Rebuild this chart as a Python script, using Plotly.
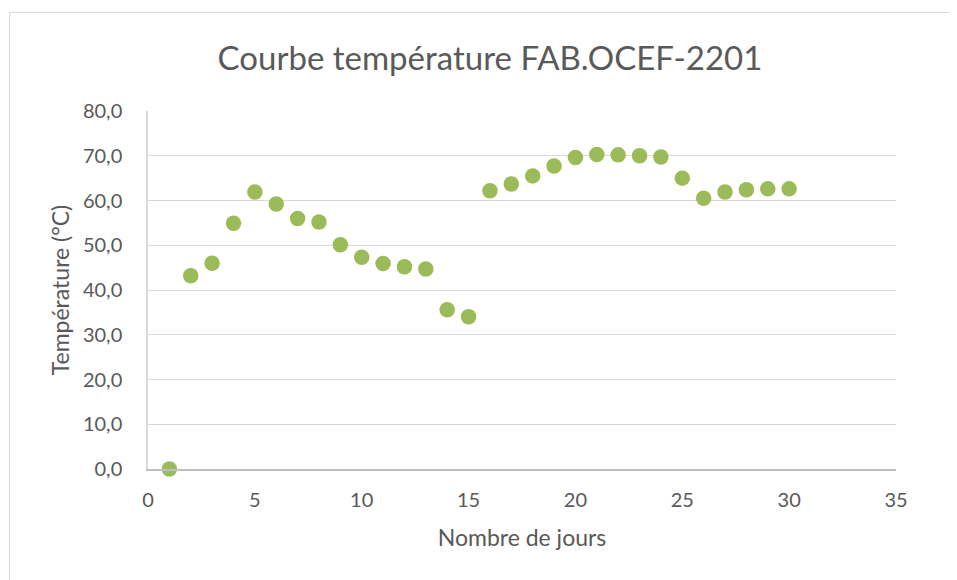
import plotly.graph_objects as go

days = list(range(1, 31))
temperature = [0.0, 43.2, 46.0, 54.9, 61.9, 59.2, 56.0, 55.2, 50.1, 47.3,
               45.9, 45.2, 44.7, 35.6, 34.0, 62.2, 63.7, 65.5, 67.7, 69.6,
               70.3, 70.2, 70.0, 69.7, 65.0, 60.5, 61.9, 62.4, 62.6, 62.6]
x_ticks = [0, 5, 10, 15, 20, 25, 30, 35]
y_ticks = [0, 10, 20, 30, 40, 50, 60, 70, 80]

title_text = "Courbe température FAB.OCEF-2201"
x_title = "Nombre de jours"
y_title = "Température (°C)"

FONT = "Lato"
TXT = "#595959"

# the page body has an 8px margin; figure is sized/offset to compensate
W, H = 949, 572
L, T = 140, 103
PW, PH = 748.5, 358

fig = go.Figure()
fig.add_trace(go.Scatter(
    x=days, y=temperature, mode="markers",
    marker=dict(size=15.5, color="#9BBB59", line=dict(width=0)),
    showlegend=False, cliponaxis=False,
))

fig.update_layout(
    width=W, height=H,
    margin=dict(l=L, r=W - L - PW, t=T, b=H - T - PH, autoexpand=False),
    paper_bgcolor="white", plot_bgcolor="white",
    separators=",.",
    font=dict(family=FONT, color=TXT, size=20),
    title=dict(text=title_text, x=(482 / W), xanchor="center",
               y=1 - 50 / H, yanchor="middle",
               font=dict(family=FONT, size=33, color=TXT)),
    shapes=[dict(type="rect", xref="paper", yref="paper",
                 x0=(1.5 - L) / PW, x1=(W + 20 - L) / PW,
                 y0=(T + PH - (H + 20)) / PH, y1=(T + PH - 4.5) / PH,
                 line=dict(color="#D9D9D9", width=1), layer="below")],
)

fig.update_xaxes(
    range=[0, 35], tickvals=x_ticks, showgrid=False, zeroline=False,
    showline=True, linecolor="#BFBFBF", linewidth=1.5,
    ticks="outside", ticklen=12, tickcolor="rgba(0,0,0,0)",
    tickfont=dict(family=FONT, size=20, color=TXT),
    title=dict(text=x_title, font=dict(family=FONT, size=23, color=TXT), standoff=20),
)
fig.update_yaxes(
    range=[0, 80], tickvals=y_ticks, tickformat=".1f",
    showgrid=True, gridcolor="#D9D9D9", gridwidth=1.3, zeroline=False,
    showline=True, linecolor="#D9D9D9", linewidth=1.5,
    ticks="outside", ticklen=20, tickcolor="rgba(0,0,0,0)",
    tickfont=dict(family=FONT, size=20, color=TXT),
    title=dict(text=y_title, font=dict(family=FONT, size=23, color=TXT), standoff=7),
)

fig.write_html("out.html")
